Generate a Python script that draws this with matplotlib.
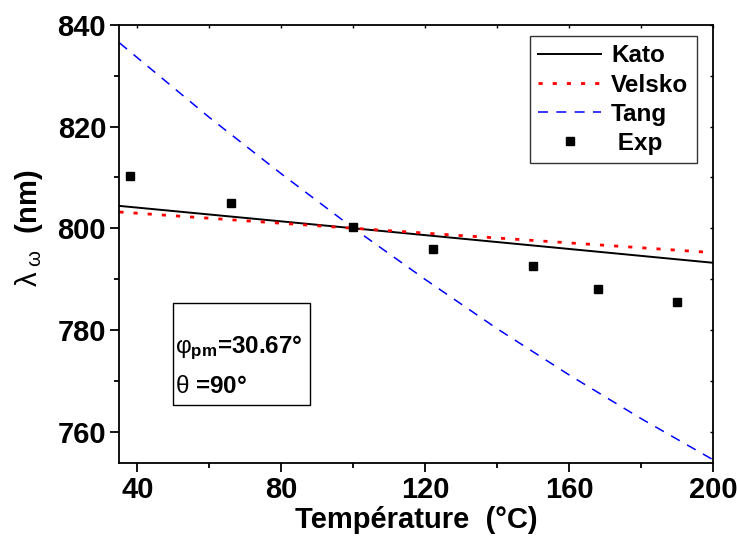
import matplotlib
matplotlib.use("Agg")
import matplotlib.pyplot as plt
from matplotlib.patches import Rectangle
from matplotlib.ticker import MultipleLocator

plt.rcParams.update({
    "font.family": "Liberation Sans",
    "font.weight": "bold",
    "mathtext.fontset": "custom",
    "mathtext.rm": "Liberation Sans:weight=normal",
    "mathtext.bf": "Liberation Sans:weight=bold",
    "mathtext.it": "Liberation Sans:italic",
})

# data
temp_exp = [38, 66, 100, 122, 150, 168, 190]
lam_exp = [810.2, 805.0, 800.2, 796.0, 792.6, 788.0, 785.4]

temp_kato = [35, 100, 200]
lam_kato = [804.4, 800.0, 793.2]

temp_velsko = [35, 100, 200]
lam_velsko = [803.2, 800.0, 795.2]

temp_tang = [35, 60, 80, 100, 120, 140, 160, 180, 200]
lam_tang = [836.5, 821.8, 810.7, 800.0, 789.9, 780.2, 771.1, 762.5, 754.4]

fig = plt.figure(figsize=(7.37, 5.38), dpi=100)
ax = fig.add_axes([0.162, 0.1394, 0.806, 0.8141])

ax.plot(temp_kato, lam_kato, color="black", lw=1.4, label="Kato")
ax.plot(temp_velsko, lam_velsko, color="#ff0000", lw=2.0,
        linestyle=(0, (1.5, 3.6)), label="Velsko")
ax.plot(temp_tang, lam_tang, color="#0000ff", lw=1.1,
        linestyle=(0, (6.5, 5.5)), label="Tang")
ax.plot(temp_exp, lam_exp, "s", color="black", markersize=5.2,
        linestyle="none", label=" Exp")

ax.set_xlim(35, 200)
ax.set_ylim(753.8, 840)
ax.xaxis.set_major_locator(MultipleLocator(40))
ax.xaxis.set_minor_locator(MultipleLocator(20))
ax.yaxis.set_major_locator(MultipleLocator(20))
ax.yaxis.set_minor_locator(MultipleLocator(10))

for s in ax.spines.values():
    s.set_linewidth(1.3)
ax.tick_params(which="major", direction="out", length=6.5, width=1.3,
               labelsize=21, pad=3)
ax.tick_params(which="minor", direction="out", length=3.8, width=1.3)

# top/right ticks are tiny and point inward in the reference
sec_x = ax.secondary_xaxis("top")
sec_y = ax.secondary_yaxis("right")
for sec in (sec_x, sec_y):
    sec.tick_params(which="both", direction="in", length=2, width=1.0)
    sec.spines[:].set_visible(False)
sec_x.xaxis.set_major_locator(MultipleLocator(40))
sec_x.xaxis.set_minor_locator(MultipleLocator(20))
sec_y.yaxis.set_major_locator(MultipleLocator(20))
sec_y.yaxis.set_minor_locator(MultipleLocator(10))
sec_x.set_xticklabels([])
sec_y.set_yticklabels([])

ax.set_xlabel("Température  (°C)", fontsize=21, fontweight="bold", labelpad=1)
ax.set_ylabel(r"$\mathrm{\lambda}_{\ \mathrm{\omega}}$  (nm)", fontsize=21,
              fontweight="bold")
ax.yaxis.set_label_coords(-0.125, 0.537)

leg = ax.legend(loc="upper right", bbox_to_anchor=(0.972, 0.975),
                fontsize=17.5, frameon=True, fancybox=False, handlelength=2.6,
                handletextpad=0.4, borderpad=0.35, labelspacing=0.25,
                borderaxespad=0)
leg.get_frame().set_edgecolor("black")
leg.get_frame().set_linewidth(1.0)

ax.add_patch(Rectangle((0.0904, 0.132), 0.231, 0.233, transform=ax.transAxes,
                       fill=False, edgecolor="black", lw=1.0))
ax.text(0.094, 0.262, r"$\mathrm{φ}_{\mathbf{pm}}$=30.67°", transform=ax.transAxes,
        fontsize=17.5, va="center", ha="left")
ax.text(0.094, 0.175, r"$\mathrm{θ}$ =90°", transform=ax.transAxes,
        fontsize=17.5, va="center", ha="left")

fig.savefig("out.png", dpi=100)
